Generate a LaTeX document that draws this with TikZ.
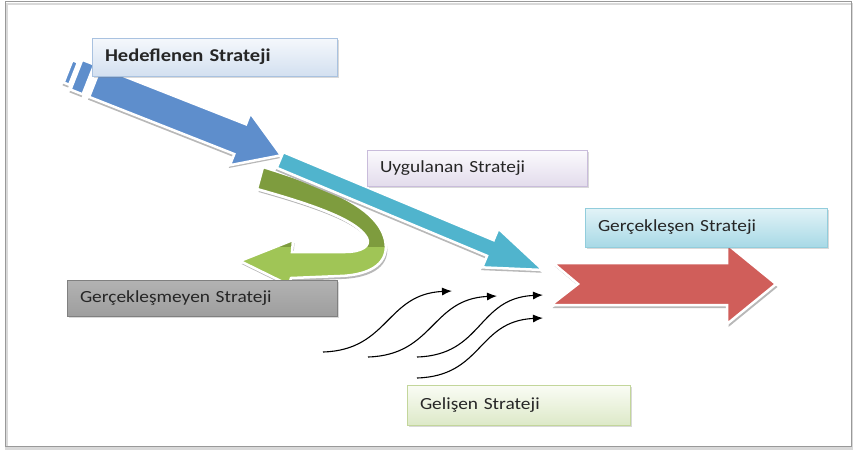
\documentclass[tikz,border=0pt]{standalone}
\usepackage{fontspec}
\setmainfont{Carlito}[FakeStretch=1.14]
\usetikzlibrary{arrows.meta}
\usetikzlibrary{shadows}
\definecolor{arrBlue}{HTML}{5E8ECC}
\definecolor{arrCyan}{HTML}{50B4CD}
\definecolor{arrRed}{HTML}{D05E5A}
\definecolor{arrGreenDark}{HTML}{7E9C3E}
\definecolor{arrGreenLight}{HTML}{A0C556}
\definecolor{hedefTop}{HTML}{F5F8FC}
\definecolor{hedefBot}{HTML}{D3E0F0}
\definecolor{hedefLine}{HTML}{A9C2E0}
\definecolor{uyguTop}{HTML}{FBFAFD}
\definecolor{uyguBot}{HTML}{E3DCEC}
\definecolor{uyguLine}{HTML}{C9BCDB}
\definecolor{gercTop}{HTML}{E2F3F7}
\definecolor{gercBot}{HTML}{A8D9E6}
\definecolor{gercLine}{HTML}{92CDDC}
\definecolor{gelisTop}{HTML}{FAFCF5}
\definecolor{gelisBot}{HTML}{DDE9C8}
\definecolor{gelisLine}{HTML}{C3D69B}
\tikzstyle{lblbox} = [draw, rectangle, align=left, inner xsep=13pt, inner ysep=0pt, text=black!85, font=\fontsize{17}{20}\selectfont, drop shadow={shadow xshift=1.5pt, shadow yshift=-2pt, opacity=0.3}]
\tikzstyle{blkarrow} = [draw=white, line width=2.5pt, line join=miter]
\tikzstyle{arrshadow} = [fill=black!28]
\tikzstyle{emline} = [line width=1.1pt, -{Latex[length=10pt,width=8pt]}]

\begin{document}
\begin{tikzpicture}[x=1pt, y=-1pt]
\useasboundingbox (0,0) rectangle (853,451);
% frame
\draw[black!15, line width=2.5pt] (6.5,4) rectangle (852,448.5);
\draw[black!40, line width=0.9pt] (5,1.5) rectangle (851.5,446);

% green arrow (not realised)
\def\greenbody{(263,167) .. controls (320,185) and (377,205) .. (385,240)
  .. controls (390,262) and (372,275) .. (340,276)
  -- (291,278) -- (289,285) -- (240,261) -- (293,240) -- (292,252) -- (345,252)
  .. controls (362,252) and (371,246) .. (367,238)
  .. controls (358,221) and (318,206) .. (257,189) -- cycle}
\fill[arrshadow, shift={(1.5,3)}] \greenbody;
\filldraw[blkarrow, fill=arrGreenLight] \greenbody;
\begin{scope}
  \clip (0,0) rectangle (853,246);
  \filldraw[blkarrow, fill=arrGreenDark] \greenbody;
\end{scope}

% cyan arrow (applied)
\begin{scope}[shift={(280,160)}, rotate=-22.7]
  \def\cyanbody{(0,-8.5) -- (228,-8.5) -- (228,-21) -- (285,0) -- (228,21) -- (228,8.5) -- (0,8.5) -- cycle}
  \fill[arrshadow, shift={(0,3)}] \cyanbody;
  \filldraw[blkarrow, fill=arrCyan] \cyanbody;
\end{scope}

% blue arrow (intended)
\begin{scope}[shift={(95,82)}, rotate=-21.5]
  \def\bluebody{(0,-16) -- (156,-16) -- (156,-28) -- (200,0) -- (156,28) -- (156,16) -- (0,16) -- cycle
    (-20,-16) -- (-7,-16) -- (-7,16) -- (-20,16) -- cycle
    (-29,-12) -- (-23,-12) -- (-23,12) -- (-29,12) -- cycle}
  \fill[arrshadow, shift={(0,3)}] \bluebody;
  \filldraw[blkarrow, fill=arrBlue] \bluebody;
\end{scope}

% red arrow (realised)
\def\redbody{(553,263) -- (727,263) -- (727,244) -- (776,284) -- (727,324) -- (727,305) -- (551,305) -- (578,284) -- cycle}
\fill[arrshadow, shift={(1.5,3)}] \redbody;
\filldraw[blkarrow, fill=arrRed] \redbody;

% emergent flows
\coordinate (em_s1) at (323,352);
\coordinate (em_e1) at (452,291);
\coordinate (em_s2) at (368,357);
\coordinate (em_e2) at (497,296);
\coordinate (em_s3) at (417,357);
\coordinate (em_e3) at (543,295);
\coordinate (em_s4) at (417,378);
\coordinate (em_e4) at (543,318);
\draw[emline] (em_s1) .. controls +(66,-2) and +(-66,3) .. (em_e1);
\draw[emline] (em_s2) .. controls +(66,-2) and +(-66,3) .. (em_e2);
\draw[emline] (em_s3) .. controls +(66,-2) and +(-66,3) .. (em_e3);
\draw[emline] (em_s4) .. controls +(66,-2) and +(-66,3) .. (em_e4);

% labels
\node[lblbox, draw=hedefLine, top color=hedefTop, bottom color=hedefBot, text width=219pt, minimum height=38pt, font=\fontsize{18}{21}\selectfont\bfseries] (hedef_lbl) at (214.5,57) {Hedeflenen Strateji};
\node[lblbox, draw=uyguLine, top color=uyguTop, bottom color=uyguBot, text width=194pt, minimum height=36pt] (uygu_lbl) at (477,168) {Uygulanan Strateji};
\node[lblbox, draw=gercLine, top color=gercTop, bottom color=gercBot, text width=216pt, minimum height=39pt] (gerc_lbl) at (706,227.5) {Gerçekleşen Strateji};
\node[lblbox, draw=black!50, top color=black!30, middle color=black!13, bottom color=black!38, text width=244pt, minimum height=36pt] (gercm_lbl) at (202,298) {Gerçekleşmeyen Strateji};
\node[lblbox, draw=gelisLine, top color=gelisTop, bottom color=gelisBot, text width=197pt, minimum height=40pt] (gelis_lbl) at (518.5,405) {Gelişen Strateji};
\end{tikzpicture}
\end{document}
